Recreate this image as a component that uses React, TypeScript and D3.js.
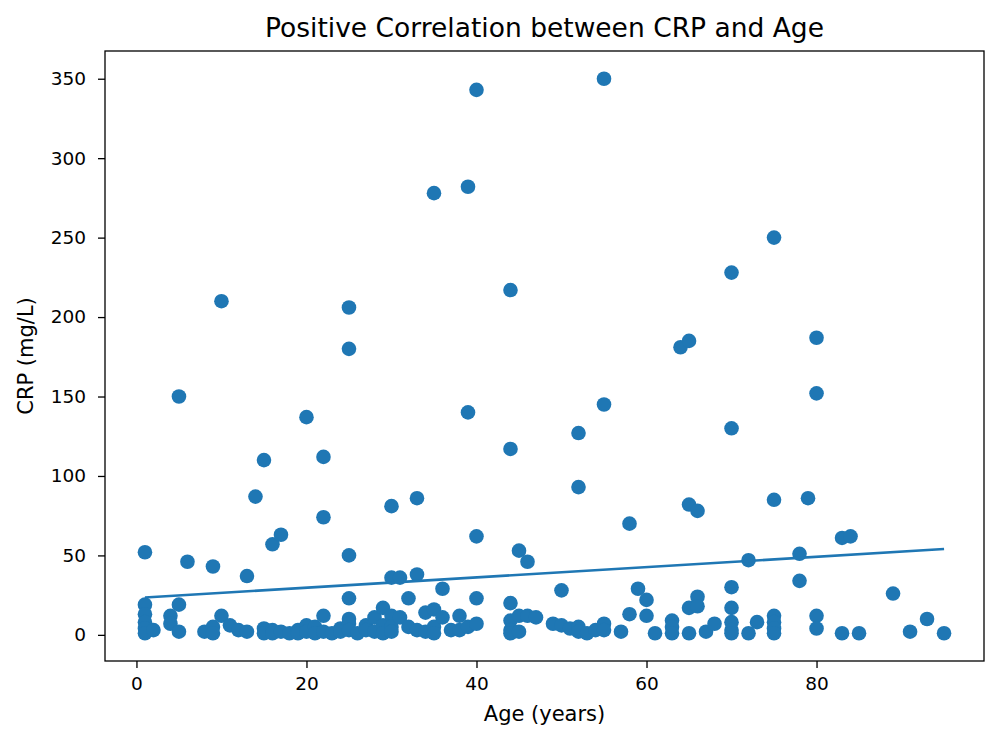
import React, { useEffect, useRef } from 'react';
import * as d3 from 'd3';

// age (years) and CRP (mg/L), one entry per patient
const ageYears = [
  1, 1, 1, 1, 1, 1, 2, 4, 4, 5, 5, 5, 6, 8, 9, 9, 9, 10, 10, 11, 12, 13, 13, 14,
  15, 15, 15, 16, 16, 16, 17, 17, 18, 19, 19, 20, 20, 20, 21, 21, 22, 22, 22, 22,
  23, 24, 24, 25, 25, 25, 25, 25, 25, 25, 26, 27, 27, 28, 28, 29, 29, 29,
  30, 30, 30, 30, 30, 31, 31, 32, 32, 33, 33, 33, 34, 34, 35, 35, 35, 35, 36, 36,
  37, 38, 38, 39, 39, 39, 40, 40, 40, 40, 44, 44, 44, 44, 44, 44, 45, 45, 45,
  46, 46, 47, 49, 50, 50, 51, 52, 52, 52, 52, 53, 54, 55, 55, 55, 55, 57, 58, 58,
  59, 60, 60, 61, 63, 63, 63, 64, 65, 65, 65, 65, 66, 66, 66, 67, 68,
  70, 70, 70, 70, 70, 70, 70, 72, 72, 73, 75, 75, 75, 75, 75, 75, 78, 78, 79,
  80, 80, 80, 80, 83, 83, 84, 85, 89, 91, 93, 95,
];
const crpValues = [
  52, 19, 13, 8, 4, 1, 3, 12, 7, 150, 19, 2, 46, 2, 43, 5, 1, 210, 12, 6, 3, 37, 2, 87,
  110, 4, 1, 57, 3, 1, 63, 2, 1, 3, 1, 137, 6, 2, 5, 1, 112, 74, 12, 2,
  1, 4, 2, 206, 180, 50, 23, 10, 7, 3, 1, 6, 3, 11, 2, 17, 6, 1,
  81, 36, 12, 5, 2, 36, 11, 23, 5, 86, 38, 3, 14, 2, 278, 16, 5, 1, 29, 11,
  3, 12, 3, 282, 140, 5, 343, 62, 23, 7, 217, 117, 20, 9, 3, 1, 53, 12, 2,
  46, 12, 11, 7, 28, 6, 4, 127, 93, 5, 2, 1, 3, 350, 145, 7, 3, 2, 70, 13,
  29, 22, 12, 1, 9, 5, 1, 181, 185, 82, 17, 1, 78, 24, 18, 2, 7,
  228, 130, 30, 17, 8, 3, 1, 47, 1, 8, 250, 85, 12, 8, 4, 1, 51, 34, 86,
  187, 152, 12, 4, 61, 1, 62, 1, 26, 2, 10, 1,
];

// fitted trend line end points
const fitAge = [1, 95];
const fitCrp = [23.5, 54];

const xTicks = [0, 20, 40, 60, 80];
const yTicks = [0, 50, 100, 150, 200, 250, 300, 350];

const BLUE = '#1f77b4';
const FONT = 'DejaVu Sans, sans-serif';

export default function App() {
  const svgRef = useRef<SVGSVGElement>(null);

  useEffect(() => {
    if (!svgRef.current) return;
    const svg = d3.select(svgRef.current);
    svg.selectAll('*').remove();

    const plot = { left: 105, right: 984, top: 51, bottom: 661 };

    // matplotlib style 5% margins around the data
    const [ax0, ax1] = d3.extent(ageYears) as [number, number];
    const [cy0, cy1] = d3.extent(crpValues) as [number, number];
    const xm = (ax1 - ax0) * 0.05;
    const ym = (cy1 - cy0) * 0.05;

    const x = d3.scaleLinear().domain([ax0 - xm, ax1 + xm]).range([plot.left, plot.right]);
    const y = d3.scaleLinear().domain([cy0 - ym, cy1 + ym]).range([plot.bottom, plot.top]);

    svg.append('rect')
      .attr('width', 1000)
      .attr('height', 744)
      .attr('fill', 'white');

    // points
    svg.append('g')
      .selectAll('circle')
      .data(ageYears.map((a, i) => ({ age: a, crp: crpValues[i] })))
      .join('circle')
      .attr('cx', d => x(d.age))
      .attr('cy', d => y(d.crp))
      .attr('r', 7.3)
      .attr('fill', BLUE);

    // trend line
    const line = d3.line<number>()
      .x(d => x(d))
      .y((_, i) => y(fitCrp[i]));
    svg.append('path')
      .datum(fitAge)
      .attr('d', line)
      .attr('fill', 'none')
      .attr('stroke', BLUE)
      .attr('stroke-width', 2.6);

    // frame
    svg.append('rect')
      .attr('x', plot.left)
      .attr('y', plot.top)
      .attr('width', plot.right - plot.left)
      .attr('height', plot.bottom - plot.top)
      .attr('fill', 'none')
      .attr('stroke', 'black')
      .attr('stroke-width', 1.3);

    // x axis
    const xAxis = svg.append('g')
      .attr('transform', `translate(0,${plot.bottom})`)
      .call(d3.axisBottom(x).tickValues(xTicks).tickSize(7).tickPadding(9).tickSizeOuter(0));
    xAxis.select('.domain').remove();
    xAxis.selectAll('line').attr('stroke', 'black').attr('stroke-width', 1.3);
    xAxis.selectAll('text')
      .attr('font-family', FONT)
      .attr('font-size', 18.5)
      .attr('fill', 'black');

    // y axis
    const yAxis = svg.append('g')
      .attr('transform', `translate(${plot.left},0)`)
      .call(d3.axisLeft(y).tickValues(yTicks).tickSize(7).tickPadding(12).tickSizeOuter(0));
    yAxis.select('.domain').remove();
    yAxis.selectAll('line').attr('stroke', 'black').attr('stroke-width', 1.3);
    yAxis.selectAll('text')
      .attr('font-family', FONT)
      .attr('font-size', 18.5)
      .attr('fill', 'black');

    const midX = (plot.left + plot.right) / 2;
    const midY = (plot.top + plot.bottom) / 2;

    svg.append('text')
      .attr('x', midX)
      .attr('y', 37)
      .attr('text-anchor', 'middle')
      .attr('font-family', FONT)
      .attr('font-size', 26.5)
      .text('Positive Correlation between CRP and Age');

    svg.append('text')
      .attr('x', midX)
      .attr('y', 721)
      .attr('text-anchor', 'middle')
      .attr('font-family', FONT)
      .attr('font-size', 21)
      .text('Age (years)');

    svg.append('text')
      .attr('transform', `translate(33,${midY}) rotate(-90)`)
      .attr('text-anchor', 'middle')
      .attr('font-family', FONT)
      .attr('font-size', 21)
      .text('CRP (mg/L)');
  }, []);

  return (
    <svg
      ref={svgRef}
      width={1000}
      height={744}
      style={{ position: 'absolute', left: 0, top: 0 }}
    />
  );
}
